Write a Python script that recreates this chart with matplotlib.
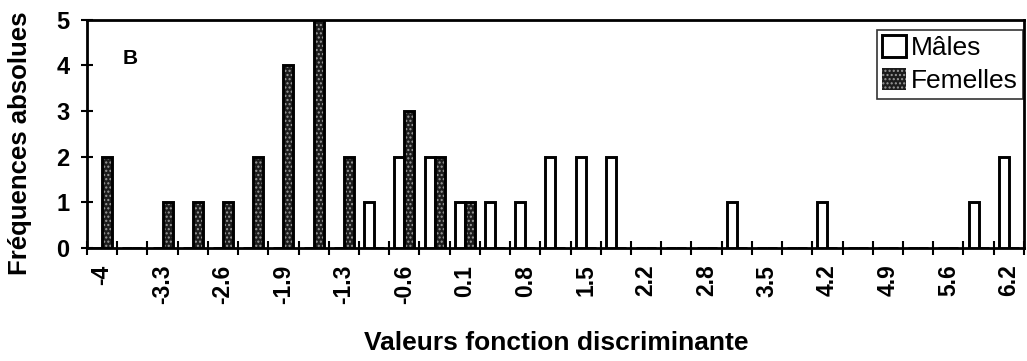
import matplotlib.pyplot as plt
import numpy as np

plt.rcParams["font.family"] = ["Liberation Sans", "DejaVu Sans"]

# 31 class values on the category axis (only every second one is labelled)
categories = [-4, -3.7, -3.3, -3.0, -2.6, -2.3, -1.9, -1.6, -1.3, -0.9,
              -0.6, -0.2, 0.1, 0.5, 0.8, 1.2, 1.5, 1.9, 2.2, 2.5,
              2.8, 3.2, 3.5, 3.9, 4.2, 4.6, 4.9, 5.2, 5.6, 5.9, 6.2]
males = [0, 0, 0, 0, 0, 0, 0, 0, 0, 1,
         2, 2, 1, 1, 1, 2, 2, 2, 0, 0,
         0, 1, 0, 0, 1, 0, 0, 0, 0, 1, 2]
femelles = [2, 0, 1, 1, 1, 2, 4, 5, 2, 0,
            3, 2, 1, 0, 0, 0, 0, 0, 0, 0,
            0, 0, 0, 0, 0, 0, 0, 0, 0, 0, 0]

fig = plt.figure(figsize=(10.27, 3.61), dpi=100)
ax = fig.add_axes([0.0847, 0.313, 0.9123, 0.632])

x = np.arange(len(categories))
w = 0.33
lw = 2.1
ax.bar(x - w / 2, males, width=w, color="white", edgecolor="black",
       linewidth=lw, label="Mâles", zorder=3)
ax.bar(x + w / 2, femelles, width=w, color="#1c1c1c", edgecolor="#9a9a9a",
       hatch="....", linewidth=0, zorder=3)
ax.bar(x + w / 2, femelles, width=w, fill=False, edgecolor="black",
       linewidth=lw, zorder=4)
# proxy for legend
fem_proxy = plt.Rectangle((0, 0), 1, 1, facecolor="#1c1c1c",
                          edgecolor="#9a9a9a", hatch="....", linewidth=0)

ax.set_xlim(-0.5, len(categories) - 0.5)
ax.set_ylim(0, 5)

ax.set_xticks(x[::2])
ax.set_xticklabels([f"{c:g}" for c in categories[::2]], rotation=90,
                   fontsize=16.5, fontweight="bold")
ax.set_xticks(np.arange(-0.5, len(categories)), minor=True)
ax.tick_params(axis="x", which="major", length=0, pad=12)
ax.tick_params(axis="x", which="minor", direction="inout", length=10,
               width=1.5)
ax.set_yticks(range(6))
ax.set_yticklabels([str(i) for i in range(6)], fontsize=17,
                   fontweight="bold")
ax.tick_params(axis="y", direction="inout", length=9, width=1.5, pad=8)

for s in ax.spines.values():
    s.set_linewidth(2.0)

fig.text(556 / 1027, 1 - 343 / 361, "Valeurs fonction discriminante",
         fontsize=19, fontweight="bold", ha="center", va="center")
fig.text(20 / 1027, 1 - 143 / 361, "Fréquences absolues", rotation=90,
         fontsize=18.5, fontweight="bold", ha="center", va="center")

ax.text(0.046, 0.83, "B", transform=ax.transAxes, fontsize=15,
        fontweight="bold", ha="center", va="center")

handles, labels = ax.get_legend_handles_labels()
leg = ax.legend(handles + [fem_proxy], labels + ["Femelles"],
                loc="upper right", bbox_to_anchor=(0.9995, 0.955),
                fontsize=19, frameon=True, fancybox=False,
                handlelength=0.9, handleheight=0.9, handletextpad=0.2,
                borderpad=0.2, labelspacing=0.3, borderaxespad=0)
leg.get_frame().set_edgecolor("black")
leg.get_frame().set_linewidth(1.2)

fig.savefig("out.png", dpi=100)
